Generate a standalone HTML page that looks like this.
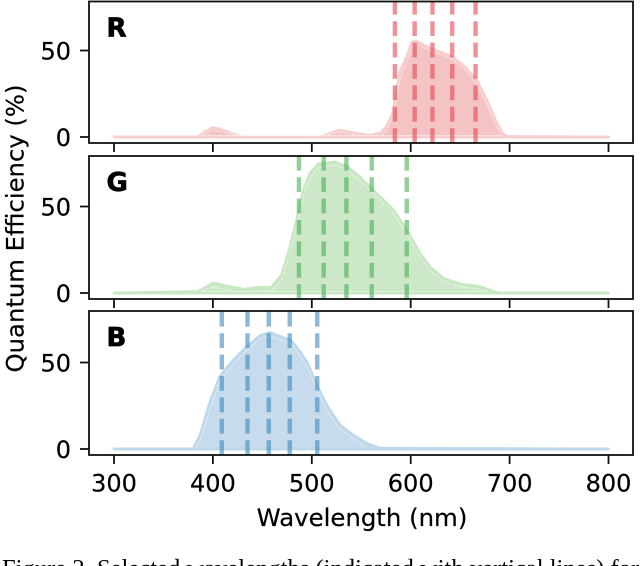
<!DOCTYPE html>
<html>
<head>
<meta charset="utf-8">
<style>
html,body{margin:0;padding:0;background:#fff;width:640px;height:566px;overflow:hidden}
svg{display:block}
text{font-family:"DejaVu Sans",sans-serif;fill:#000}
</style>
</head>
<body>
<svg id="chart" width="640" height="566" viewBox="0 0 640 566" xmlns="http://www.w3.org/2000/svg"></svg>
<script>
const xTicks = [300, 400, 500, 600, 700, 800];
const yTicks = [0, 50];
const panelLabels = ['R', 'G', 'B'];

const wavelengthsR = [300, 385, 392, 400, 408, 418, 430, 508, 528, 552, 559, 570, 576, 581.8, 584.2, 589, 596, 601, 605.4, 621, 640, 653, 666.7, 677, 687, 693, 697, 800];
const outerR = [0, 0, 3, 5.4, 4.4, 2.2, 0, 0, 4, 1.5, 1, 2.5, 6.5, 13.7, 21.4, 37.8, 46.4, 54.7, 55.5, 51, 47, 41.6, 33, 21.4, 8, 2, 0.3, 0];
const innerWavelengthsR = [388, 400, 410, 428, 510, 528, 548, 570, 576, 582, 585, 590, 597, 602, 606, 621, 640, 653, 666, 676, 686, 692];
const innerR = [0.9, 3.8, 2.8, 0.9, 0.9, 2.8, 0.9, 1, 4, 11, 19, 35, 44, 52.5, 53.5, 49.5, 45.5, 40, 31, 20, 7, 0.9];

const wavelengthsG = [300, 385, 400.4, 417, 432, 446, 459, 469.5, 478, 484.6, 491.4, 498, 506.5, 523.4, 535, 548.7, 565.5, 582.4, 596, 609.3, 619.4, 633, 650, 670, 683.5, 690, 800];
const outerG = [0, 0.8, 5.8, 3.7, 2.1, 3.3, 3.3, 10.4, 26.8, 42, 59.5, 69, 74.6, 75.7, 73.4, 67, 57.6, 48, 36.4, 23, 15.2, 8.5, 5.2, 3.7, 0.8, 0, 0];
const innerWavelengthsG = [388, 400.4, 417, 420, 445, 460, 470, 478, 485, 491.4, 498, 506.5, 523.4, 535, 548.7, 565.5, 582.4, 596, 609.3, 619.4, 633, 650, 670, 678];
const innerG = [0.9, 3.6, 1.6, 0.9, 0.9, 1.5, 8, 24, 39, 56, 66.5, 72.5, 74, 71.5, 65, 55.5, 46, 34, 21, 13, 6.8, 3.6, 2.2, 0.9];

const wavelengthsB = [300, 380, 387, 397, 407, 420.6, 434, 447.6, 457.7, 466, 478, 484.6, 495, 505, 515, 528.4, 542, 555.4, 569, 800];
const outerB = [0, 0, 8, 27, 42, 51.4, 59, 65.5, 67.4, 65.5, 63, 59, 50.5, 37, 25.4, 13.9, 8, 3.3, 0.4, 0];
const innerWavelengthsB = [382, 387, 397, 407, 420.6, 434, 447.6, 457.7, 466, 478, 484.6, 495, 505, 515, 528.4, 542, 555];
const innerB = [0.4, 5, 23, 39, 49, 57, 63.5, 65.5, 63.5, 61, 57, 48, 34.5, 22.5, 11.5, 6, 1];

const selectedR = [584, 604, 622, 642, 665.6];
const selectedG = [487, 512, 535, 560.6, 596];
const selectedB = [409, 435, 456.5, 477.7, 505.5];

const NS = 'http://www.w3.org/2000/svg';
const svg = document.getElementById('chart');

function xScale(nm) { return 114 + (nm - 300) * 0.989; }
function yScale(panel, v) { return panel.zeroY - v * 1.73; }

function make(tag, attrs, parent) {
  const el = document.createElementNS(NS, tag);
  for (const k in attrs) el.setAttribute(k, attrs[k]);
  parent.appendChild(el);
  return el;
}

function linePath(panel, xs, ys) {
  return xs.map((x, i) => (i ? 'L' : 'M') + xScale(x).toFixed(2) + ' ' + yScale(panel, ys[i]).toFixed(2)).join(' ');
}

const panels = [
  { key: 'r', top: 1.5, bottom: 143, zeroY: 137, xs: wavelengthsR, outer: outerR, innerXs: innerWavelengthsR, inner: innerR, closed: true, sel: selectedR,
    fill: '#f4c4c4', line: '#f7cfcf', dash: '#e2434e' },
  { key: 'g', top: 156, bottom: 299, zeroY: 293, xs: wavelengthsG, outer: outerG, innerXs: innerWavelengthsG, inner: innerG, closed: true, sel: selectedG,
    fill: '#cde8c8', line: '#c8e7c3', dash: '#45ad4f' },
  { key: 'b', top: 311, bottom: 455, zeroY: 449, xs: wavelengthsB, outer: outerB, innerXs: innerWavelengthsB, inner: innerB, closed: false, sel: selectedB,
    fill: '#c6dbec', line: '#bfd9ea', dash: '#3587c0' }
];

panels.forEach((p, idx) => {
  const g = make('g', {}, svg);
  
  

  const area = make('path', {
    d: linePath(p, p.xs, p.outer) + ' Z',
    fill: p.fill, stroke: p.line, 'stroke-width': 2.8, 'stroke-linejoin': 'round'
  }, g);
  
  

  const base = make('line', {
    x1: xScale(300), x2: xScale(800), y1: yScale(p, 0), y2: yScale(p, 0),
    stroke: p.line, 'stroke-width': 2.8
  }, g);
  
  

  const inner = make('path', {
    d: linePath(p, p.innerXs, p.inner) + (p.closed ? ' Z' : ''),
    fill: 'none', stroke: '#fff', 'stroke-width': 0.8, 'stroke-opacity': 0.7, 'stroke-dasharray': '2 1'
  }, g);
  
  

  p.sel.forEach((nm) => {
    const v = make('line', {
      x1: xScale(nm), x2: xScale(nm), y1: p.bottom, y2: p.top,
      stroke: p.dash, 'stroke-opacity': 0.58, 'stroke-width': 4.4, 'stroke-dasharray': '14.8 6.6'
    }, g);
    
    
  });

  const frame = make('rect', {
    x: 89, y: p.top, width: 544, height: p.bottom - p.top,
    fill: 'none', stroke: '#111', 'stroke-width': 1.8
  }, g);
  
  

  xTicks.forEach((t) => {
    const tick = make('line', {
      x1: xScale(t), x2: xScale(t), y1: p.bottom, y2: p.bottom + 9,
      stroke: '#111', 'stroke-width': 1.8
    }, g);
    
    
    if (idx === 2) {
      const lab = make('text', { x: xScale(t), y: 491.5, 'text-anchor': 'middle', 'font-size': 24, stroke: '#000', 'stroke-width': 0.2 }, g);
      lab.textContent = t;
      
      
    }
  });

  yTicks.forEach((t) => {
    const y = yScale(p, t);
    const tick = make('line', { x1: 80, x2: 89, y1: y, y2: y, stroke: '#111', 'stroke-width': 1.8 }, g);
    
    
    const lab = make('text', { x: 71, y: y + 8.8, 'text-anchor': 'end', 'font-size': 24, stroke: '#000', 'stroke-width': 0.2 }, g);
    lab.textContent = t;
    
    
  });

  const pl = make('text', { x: 106.5, y: p.top + 35, 'font-size': 26, 'font-weight': 'bold', stroke: '#000', 'stroke-width': 0.7 }, g);
  pl.textContent = panelLabels[idx];
  
  
});

const xTitle = make('text', { x: 362, y: 526, 'text-anchor': 'middle', 'font-size': 24.4, stroke: '#000', 'stroke-width': 0.2 }, svg);
xTitle.textContent = 'Wavelength (nm)';



const yTitle = make('text', { x: 0, y: 0, 'text-anchor': 'middle', 'font-size': 24.3, stroke: '#000', 'stroke-width': 0.2, transform: 'translate(23.5 228.5) rotate(-90)' }, svg);
yTitle.textContent = 'Quantum Efficiency (%)';



const caption = make('text', { x: 2, y: 576, 'font-size': 24.6, style: 'font-family:"Liberation Serif",serif' }, svg);
caption.textContent = 'Figure 2. Selected wavelengths (indicated with vertical lines) for';


</script>
</body>
</html>
